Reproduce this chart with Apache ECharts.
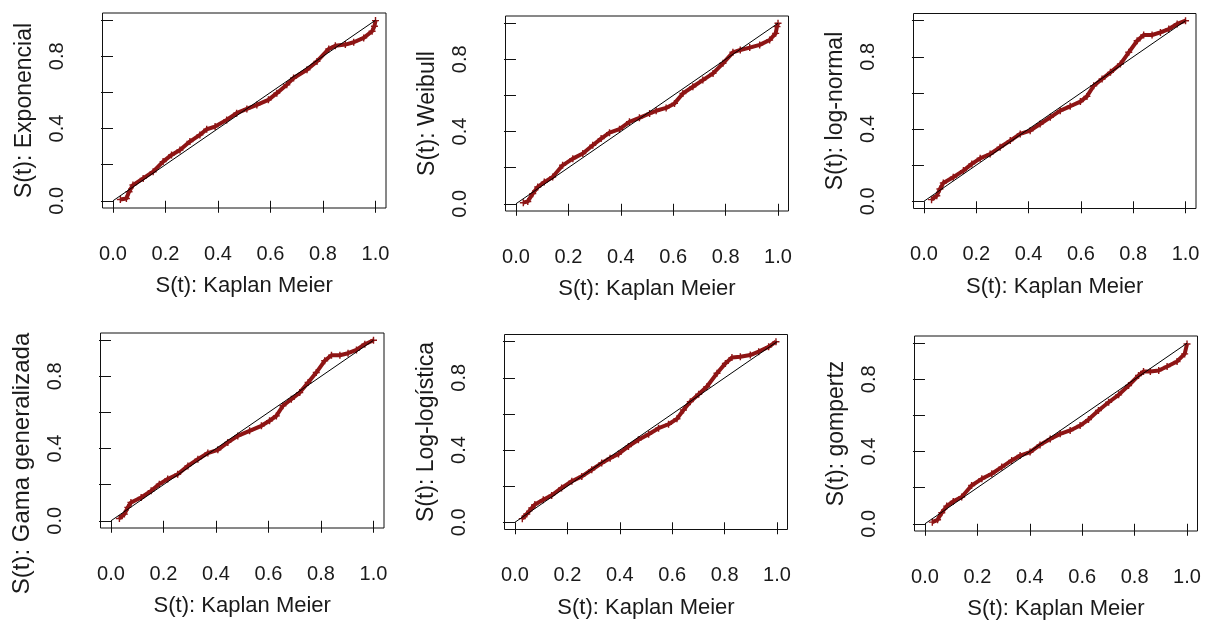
<!DOCTYPE html>
<html>
<head>
<meta charset="utf-8">
<script src="https://cdn.jsdelivr.net/npm/echarts@6/dist/echarts.min.js"></script>
<style>
html,body{margin:0;padding:0;background:#fff;}
#chart{width:1205px;height:625px;}
</style>
</head>
<body>
<div id="chart"></div>
<script>
// ---- data ----
var xTitle = 'S(t): Kaplan Meier';
var yTitles = ['S(t): Exponencial','S(t): Weibull','S(t): log-normal','S(t): Gama generalizada','S(t): Log-logística','S(t): gompertz'];
var xTickValues = [0, 0.2, 0.4, 0.6, 0.8, 1.0];
var yTickValues = [0, 0.2, 0.4, 0.6, 0.8, 1.0];
var yLabelValues = [0, 0.4, 0.8];
var diagX = [0, 1];
var diagY = [0, 1];

var km1 = [0.028,0.051,0.061,0.076,0.115,0.153,0.191,0.223,0.255,0.293,0.331,0.357,0.389,0.433,0.471,0.510,0.548,0.592,0.624,0.662,0.688,0.739,0.777,0.822,0.847,0.885,0.917,0.955,0.987,0.996,1.0];
var s1  = [0.007,0.013,0.050,0.087,0.124,0.161,0.217,0.254,0.281,0.328,0.365,0.396,0.411,0.448,0.485,0.509,0.531,0.559,0.596,0.643,0.680,0.726,0.772,0.841,0.859,0.865,0.878,0.902,0.939,0.967,0.998];

var km2 = [0.028,0.045,0.064,0.083,0.108,0.140,0.178,0.217,0.255,0.293,0.325,0.357,0.395,0.433,0.471,0.510,0.535,0.573,0.605,0.637,0.675,0.713,0.752,0.790,0.828,0.856,0.892,0.930,0.968,0.991,0.996,1.0];
var s2  = [0.006,0.013,0.056,0.093,0.120,0.148,0.213,0.250,0.278,0.324,0.361,0.394,0.413,0.454,0.476,0.500,0.515,0.531,0.556,0.611,0.648,0.685,0.722,0.778,0.839,0.852,0.865,0.880,0.907,0.944,0.981,1.0];

var km3 = [0.029,0.049,0.061,0.074,0.112,0.151,0.183,0.215,0.253,0.291,0.330,0.368,0.406,0.444,0.483,0.521,0.559,0.598,0.623,0.649,0.681,0.713,0.751,0.783,0.815,0.840,0.872,0.904,0.936,0.968,1.0];
var s3  = [0.009,0.031,0.068,0.101,0.133,0.170,0.207,0.238,0.262,0.299,0.336,0.373,0.391,0.428,0.465,0.502,0.526,0.552,0.581,0.640,0.677,0.714,0.760,0.825,0.889,0.921,0.921,0.935,0.954,0.982,1.0];

var km4 = [0.032,0.051,0.064,0.076,0.115,0.153,0.184,0.216,0.254,0.293,0.331,0.369,0.407,0.445,0.483,0.528,0.573,0.604,0.630,0.655,0.687,0.719,0.751,0.782,0.814,0.840,0.872,0.903,0.935,0.967,1.0];
var s4  = [0.013,0.037,0.074,0.101,0.129,0.166,0.203,0.231,0.258,0.304,0.341,0.375,0.393,0.434,0.470,0.498,0.526,0.554,0.581,0.637,0.673,0.710,0.766,0.821,0.886,0.917,0.917,0.928,0.946,0.978,1.0];

var km5 = [0.028,0.045,0.064,0.076,0.108,0.140,0.178,0.217,0.255,0.293,0.331,0.363,0.395,0.433,0.471,0.510,0.548,0.586,0.618,0.643,0.669,0.701,0.732,0.771,0.803,0.828,0.860,0.898,0.930,0.968,0.996];
var s5  = [0.020,0.046,0.079,0.098,0.125,0.149,0.190,0.227,0.254,0.291,0.328,0.355,0.378,0.420,0.457,0.488,0.521,0.543,0.573,0.622,0.668,0.709,0.751,0.825,0.880,0.912,0.917,0.926,0.945,0.972,1.0];

var km6 = [0.028,0.048,0.064,0.083,0.108,0.140,0.178,0.217,0.255,0.293,0.331,0.363,0.401,0.439,0.478,0.516,0.554,0.592,0.624,0.662,0.701,0.739,0.777,0.815,0.834,0.860,0.892,0.924,0.962,0.991,1.0];
var s6  = [0.009,0.022,0.061,0.098,0.124,0.148,0.212,0.249,0.277,0.314,0.351,0.378,0.397,0.437,0.470,0.498,0.517,0.544,0.577,0.627,0.673,0.714,0.766,0.821,0.843,0.843,0.849,0.871,0.899,0.941,0.996];

var kmList = [km1, km2, km3, km4, km5, km6];
var sList  = [s1, s2, s3, s4, s5, s6];

// ---- layout ----
var grids = [
  {left:102.5, top:13,  width:283.5, height:195},
  {left:505.5, top:16,  width:283,   height:195},
  {left:913.5, top:13.5,width:282.5, height:195},
  {left:100.5, top:333, width:283.5, height:195},
  {left:504.5, top:334.5,width:283,  height:195},
  {left:914.5, top:336, width:283,   height:195}
];
var yTitleSizes = [23, 23, 23, 24, 23, 23];
var yTitlePads  = [[0,0,0,0],[0,0,0,0],[0,0,0,0],[0,66,0,0],[0,0,0,0],[0,0,0,0]];

function pairs(xs, ys){ return xs.map(function(x,i){ return [x, ys[i]]; }); }

var FONT = 'Liberation Sans, Arial, sans-serif';
var TXT = '#1a1a1a';
var RED = '#8e1515';
var plusPath = 'path://M4,0h2v4h4v2h-4v4h-2v-4h-4v-2h4z';

var option = {
  backgroundColor:'#ffffff',
  animation:false,
  grid:[], xAxis:[], yAxis:[], series:[]
};

grids.forEach(function(g, i){
  option.grid.push({left:g.left, top:g.top, width:g.width, height:g.height, show:true,
    borderColor:'#111', borderWidth:1, backgroundColor:'transparent', containLabel:false});
  option.xAxis.push({
    type:'value', gridIndex:i, min:-0.04, max:1.04,
    name:xTitle, nameLocation:'middle', nameGap:67,
    nameTextStyle:{fontFamily:FONT, fontSize:22, color:TXT},
    axisLine:{show:false},
    axisTick:{show:true, length:12, inside:false, customValues:xTickValues, lineStyle:{color:'#111', width:1}},
    axisLabel:{show:true, customValues:xTickValues, margin:36, fontFamily:FONT, fontSize:20, color:TXT,
      formatter:function(v){ return (+v).toFixed(1); }},
    splitLine:{show:false}
  });
  option.yAxis.push({
    type:'value', gridIndex:i, min:-0.04, max:1.04,
    name:yTitles[i], nameLocation:'middle', nameGap:66, nameRotate:90,
    nameTextStyle:{fontFamily:FONT, fontSize:yTitleSizes[i], color:TXT, padding:yTitlePads[i]},
    axisLine:{show:false},
    axisTick:{show:true, length:12, inside:false, customValues:yTickValues, lineStyle:{color:'#111', width:1}},
    axisLabel:{show:true, customValues:yLabelValues, margin:35, rotate:90, fontFamily:FONT, fontSize:20, color:TXT,
      formatter:function(v){ return (+v).toFixed(1); }},
    splitLine:{show:false}
  });
  option.series.push({
    type:'line', xAxisIndex:i, yAxisIndex:i, data:pairs(kmList[i], sList[i]),
    showSymbol:true, symbol:plusPath, symbolSize:7,
    itemStyle:{color:RED}, lineStyle:{color:RED, width:4}, z:2, silent:true
  });
  option.series.push({
    type:'line', xAxisIndex:i, yAxisIndex:i, data:pairs(diagX, diagY),
    showSymbol:false, lineStyle:{color:'#000', width:1}, z:3, silent:true
  });
});

var chart = echarts.init(document.getElementById('chart'), null, {renderer:'canvas'});
chart.setOption(option);
</script>
</body>
</html>
